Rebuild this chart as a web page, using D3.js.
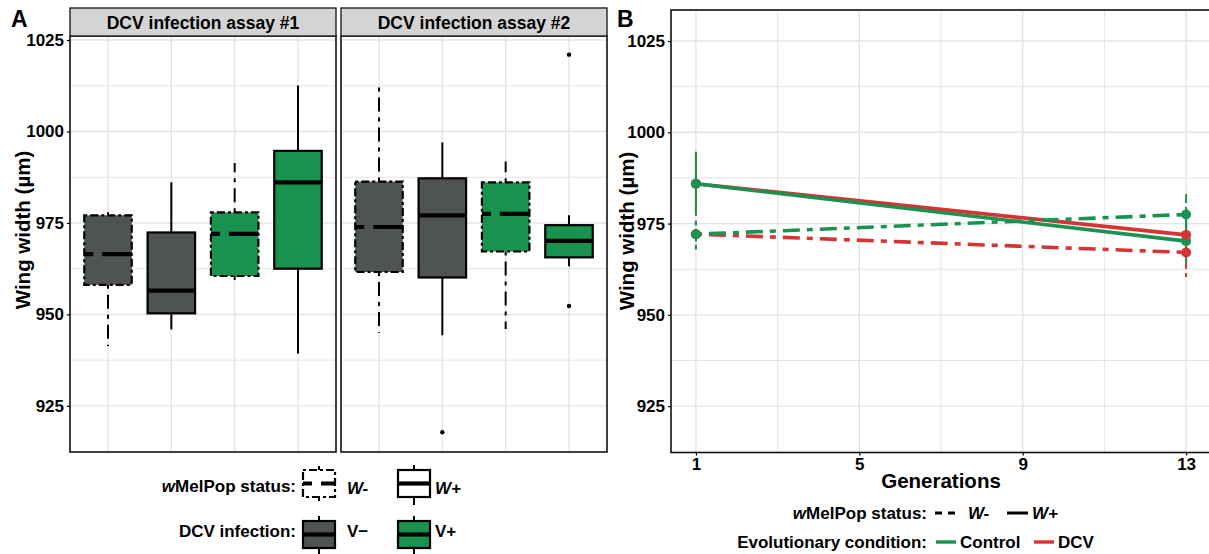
<!DOCTYPE html>
<html>
<head>
<meta charset="utf-8">
<script src="https://cdn.jsdelivr.net/npm/d3@7"></script>
<style>
  body { margin: 0; background: #fff; }
  text { font-family: "Liberation Sans", Arial, sans-serif; font-weight: bold; fill: #000; }
</style>
</head>
<body>
<svg id="fig" width="1209" height="554"></svg>
<script>
// ---- data ----
const assays = ["DCV infection assay #1", "DCV infection assay #2"];
const groups = ["W-/V-", "W+/V-", "W-/V+", "W+/V+"];
const wolbachia = ["W-", "W+", "W-", "W+"];
const infection = ["V-", "V-", "V+", "V+"];
// [lower whisker, q1, median, q3, upper whisker]
const assay1Stats = [
  [941.4, 958.1, 966.5, 977.1, 977.9],
  [945.9, 950.3, 956.5, 972.4, 986.1],
  [958.1, 960.5, 972.0, 977.9, 991.4],
  [939.3, 962.5, 986.1, 994.7, 1012.6]
];
const assay2Stats = [
  [945.0, 961.6, 973.9, 986.3, 1012.5],
  [944.3, 960.1, 977.1, 987.2, 997.0],
  [946.0, 967.2, 977.5, 986.1, 991.8],
  [963.2, 965.6, 970.1, 974.4, 977.1]
];
const assay1Outliers = [[], [], [], []];
const assay2Outliers = [[], [917.8], [], [952.3, 1021.0]];
const yTicks = [925, 950, 975, 1000, 1025];
const yMinor = [937.5, 962.5, 987.5, 1012.5];

const generations = [1, 13];
const genTicks = [1, 5, 9, 13];
const genMinor = [3, 7, 11];
const controlWplus = [985.9, 970.2], controlWplusErr = [8.8, 6.0];
const controlWminus = [972.1, 977.5], controlWminusErr = [4.2, 5.6];
const dcvWplus = [985.9, 971.9], dcvWplusErr = [8.0, 4.0];
const dcvWminus = [972.1, 967.1], dcvWminusErr = [4.0, 6.7];

// ---- styles ----
const GREY = "#4f5353", GREEN = "#19914f";
const LGREEN = "#1a9350", LRED = "#d63333";
const GRID = "#e4e4e4";
const dotdash = "4,6,14,6";

const svg = d3.select("#fig");

// ================= panel A =================
const yA = d3.scaleLinear().domain([912.4, 1026.1]).range([452, 36]);
const panelsA = [{x0: 70, x1: 336}, {x0: 341, x1: 607}];
const statsA = [assay1Stats, assay2Stats];
const outA = [assay1Outliers, assay2Outliers];

function drawBox(g, cx, w, st, fill, dashed, y) {
  const dash = dashed ? "3,3,8,3" : null;
  // whiskers
  g.append("line").attr("x1", cx).attr("x2", cx).attr("y1", y(st[3])).attr("y2", y(st[4]))
    .attr("stroke", "#000").attr("stroke-width", 2).attr("stroke-dasharray", dashed ? dotdash : null);
  g.append("line").attr("x1", cx).attr("x2", cx).attr("y1", y(st[1])).attr("y2", y(st[0]))
    .attr("stroke", "#000").attr("stroke-width", 2).attr("stroke-dasharray", dashed ? dotdash : null);
  g.append("rect").attr("x", cx - w / 2).attr("width", w)
    .attr("y", y(st[3])).attr("height", y(st[1]) - y(st[3]))
    .attr("fill", fill).attr("stroke", "#000").attr("stroke-width", 2.2)
    .attr("stroke-dasharray", dash);
  g.append("line").attr("x1", cx - w / 2).attr("x2", cx + w / 2)
    .attr("y1", y(st[2])).attr("y2", y(st[2]))
    .attr("stroke", "#000").attr("stroke-width", 4.2)
    .attr("stroke-dasharray", dashed ? "9,9,32,9" : null);
}

panelsA.forEach((p, i) => {
  const g = svg.append("g");
  const x = d3.scalePoint().domain(groups).range([p.x0, p.x1]).padding(0.6);
  const bw = x.step() * 0.75;
  // grid
  g.selectAll("line.minor").data(yMinor).join("line")
    .attr("x1", p.x0).attr("x2", p.x1).attr("y1", d => yA(d)).attr("y2", d => yA(d))
    .attr("stroke", GRID).attr("stroke-width", 1);
  g.selectAll("line.major").data(yTicks).join("line")
    .attr("x1", p.x0).attr("x2", p.x1).attr("y1", d => yA(d)).attr("y2", d => yA(d))
    .attr("stroke", GRID).attr("stroke-width", 1.4);
  g.selectAll("line.vg").data(groups).join("line")
    .attr("x1", d => x(d)).attr("x2", d => x(d)).attr("y1", 36).attr("y2", 452)
    .attr("stroke", GRID).attr("stroke-width", 1.4);
  // boxes
  groups.forEach((grp, j) => {
    const fill = infection[j] === "V+" ? GREEN : GREY;
    drawBox(g, x(grp), bw, statsA[i][j], fill, wolbachia[j] === "W-", yA);
    outA[i][j].forEach(v => g.append("circle").attr("cx", x(grp)).attr("cy", yA(v)).attr("r", 2.2).attr("fill", "#000"));
  });
  // border + strip
  g.append("rect").attr("x", p.x0).attr("y", 36).attr("width", p.x1 - p.x0).attr("height", 416)
    .attr("fill", "none").attr("stroke", "#111").attr("stroke-width", 1.6);
  g.append("rect").attr("x", p.x0).attr("y", 8).attr("width", p.x1 - p.x0).attr("height", 28)
    .attr("fill", "#d4d4d4").attr("stroke", "#222").attr("stroke-width", 1.4);
  g.append("text").attr("x", (p.x0 + p.x1) / 2).attr("y", 28.5).attr("text-anchor", "middle")
    .attr("font-size", "17.5px").text(assays[i]);
});

// y axis A
const axA = svg.append("g").attr("transform", "translate(70,0)")
  .call(d3.axisLeft(yA).tickValues(yTicks).tickFormat(d3.format("d")).tickSize(3).tickPadding(3));
axA.select(".domain").remove();
axA.selectAll("line").attr("stroke", "#000").attr("stroke-width", 1.2);
axA.selectAll("text").attr("font-size", "17px").attr("font-family", null).attr("fill", "#000");

svg.append("text").attr("transform", "translate(30,230) rotate(-90)").attr("text-anchor", "middle")
  .attr("font-size", "20.5px").text("Wing width (µm)");
svg.append("text").attr("x", 11).attr("y", 27).attr("font-size", "23px").text("A");

// legend A
function key(cx, top, fill, dashed) {
  const g = svg.append("g");
  const w = 32, h = 27;
  const sY = d => d; // pixel values already
  drawBox(g, cx, w, [top + h + 8, top + h, top + h / 2, top, top - 5], fill, dashed, sY);
}
svg.append("text").attr("x", 296).attr("y", 492).attr("text-anchor", "end").attr("font-size", "17px")
  .call(t => { t.append("tspan").attr("font-style", "italic").text("w"); t.append("tspan").text("MelPop status:"); });
key(319, 470, "#fff", true);
key(414, 470, "#fff", false);
svg.append("text").attr("x", 347).attr("y", 494).attr("font-style", "italic").attr("font-size", "17px").text(wolbachia[0]);
svg.append("text").attr("x", 435).attr("y", 494).attr("font-style", "italic").attr("font-size", "17px").text(wolbachia[1]);
svg.append("text").attr("x", 296).attr("y", 537).attr("text-anchor", "end").attr("font-size", "17px").text("DCV infection:");
key(319, 521, GREY, false);
key(414, 521, GREEN, false);
svg.append("text").attr("x", 347).attr("y", 537).attr("font-size", "17px").text("V\u2212");
svg.append("text").attr("x", 435).attr("y", 537).attr("font-size", "17px").text("V+");

// ================= panel B =================
const xB = d3.scaleLinear().domain([0.39, 13.61]).range([671, 1211]);
const yB = d3.scaleLinear().domain([912.3, 1033.5]).range([452.5, 10]);
const gB = svg.append("g");
gB.selectAll("line.hm").data(yMinor).join("line")
  .attr("x1", 671).attr("x2", 1211).attr("y1", d => yB(d)).attr("y2", d => yB(d))
  .attr("stroke", GRID).attr("stroke-width", 1);
gB.selectAll("line.hM").data(yTicks).join("line")
  .attr("x1", 671).attr("x2", 1211).attr("y1", d => yB(d)).attr("y2", d => yB(d))
  .attr("stroke", GRID).attr("stroke-width", 1.4);
gB.selectAll("line.vm").data(genMinor).join("line")
  .attr("x1", d => xB(d)).attr("x2", d => xB(d)).attr("y1", 10).attr("y2", 452.5)
  .attr("stroke", GRID).attr("stroke-width", 1);
gB.selectAll("line.vM").data(genTicks).join("line")
  .attr("x1", d => xB(d)).attr("x2", d => xB(d)).attr("y1", 10).attr("y2", 452.5)
  .attr("stroke", GRID).attr("stroke-width", 1.4);

const series = [
  {vals: dcvWminus, err: dcvWminusErr, color: LRED, dashed: true},
  {vals: dcvWplus, err: dcvWplusErr, color: LRED, dashed: false},
  {vals: controlWminus, err: controlWminusErr, color: LGREEN, dashed: true},
  {vals: controlWplus, err: controlWplusErr, color: LGREEN, dashed: false}
];
const line = d3.line().x((d, i) => xB(generations[i])).y(d => yB(d));
series.forEach(s => {
  gB.append("path").attr("d", line(s.vals)).attr("fill", "none").attr("stroke", s.color)
    .attr("stroke-width", 3.6).attr("stroke-dasharray", s.dashed ? "6,7,17,7" : null);
  generations.forEach((gen, i) => {
    gB.append("line").attr("x1", xB(gen)).attr("x2", xB(gen))
      .attr("y1", yB(s.vals[i] - s.err[i])).attr("y2", yB(s.vals[i] + s.err[i]))
      .attr("stroke", s.color).attr("stroke-width", 2)
      .attr("stroke-dasharray", s.dashed ? "4,4,12,4" : null);
  });
});
// points: generation 1 red then green, generation 13 green then red
const pointOrder = [[0, 0], [0, 1], [0, 2], [0, 3], [1, 2], [1, 3], [1, 0], [1, 1]];
pointOrder.forEach(([gi, si]) => {
  const s = series[si];
  gB.append("circle").attr("cx", xB(generations[gi])).attr("cy", yB(s.vals[gi])).attr("r", 5).attr("fill", s.color);
});
gB.append("rect").attr("x", 671).attr("y", 10).attr("width", 540).attr("height", 442.5)
  .attr("fill", "none").attr("stroke", "#111").attr("stroke-width", 1.6);

const axBy = svg.append("g").attr("transform", "translate(671,0)")
  .call(d3.axisLeft(yB).tickValues(yTicks).tickFormat(d3.format("d")).tickSize(3).tickPadding(3));
axBy.select(".domain").remove();
axBy.selectAll("line").attr("stroke", "#000").attr("stroke-width", 1.2);
axBy.selectAll("text").attr("font-size", "17px").attr("font-family", null).attr("fill", "#000");

const axBx = svg.append("g").attr("transform", "translate(0,452.5)")
  .call(d3.axisBottom(xB).tickValues(genTicks).tickFormat(d3.format("d")).tickSize(3).tickPadding(2));
axBx.select(".domain").remove();
axBx.selectAll("line").attr("stroke", "#000").attr("stroke-width", 1.2);
axBx.selectAll("text").attr("font-size", "17px").attr("font-family", null).attr("fill", "#000");

svg.append("text").attr("x", 941).attr("y", 488).attr("text-anchor", "middle").attr("font-size", "20.5px").text("Generations");
svg.append("text").attr("transform", "translate(634,231) rotate(-90)").attr("text-anchor", "middle")
  .attr("font-size", "20.5px").text("Wing width (µm)");
svg.append("text").attr("x", 617).attr("y", 27).attr("font-size", "23px").text("B");

// legend B
svg.append("text").attr("x", 927).attr("y", 519).attr("text-anchor", "end").attr("font-size", "17px")
  .call(t => { t.append("tspan").attr("font-style", "italic").text("w"); t.append("tspan").text("MelPop status:"); });
svg.append("line").attr("x1", 935).attr("x2", 955).attr("y1", 513).attr("y2", 513)
  .attr("stroke", "#000").attr("stroke-width", 3).attr("stroke-dasharray", "7,6");
svg.append("text").attr("x", 968).attr("y", 519).attr("font-style", "italic").attr("font-size", "17px").text(wolbachia[0]);
svg.append("line").attr("x1", 1007).attr("x2", 1028).attr("y1", 513).attr("y2", 513)
  .attr("stroke", "#000").attr("stroke-width", 3);
svg.append("text").attr("x", 1032).attr("y", 519).attr("font-style", "italic").attr("font-size", "17px").text(wolbachia[1]);

svg.append("text").attr("x", 927).attr("y", 548).attr("text-anchor", "end").attr("font-size", "17px").text("Evolutionary condition:");
svg.append("line").attr("x1", 936).attr("x2", 956).attr("y1", 542).attr("y2", 542)
  .attr("stroke", LGREEN).attr("stroke-width", 3.4);
svg.append("text").attr("x", 960).attr("y", 548).attr("font-size", "17px").text("Control");
svg.append("line").attr("x1", 1034).attr("x2", 1054).attr("y1", 542).attr("y2", 542)
  .attr("stroke", LRED).attr("stroke-width", 3.4);
svg.append("text").attr("x", 1058).attr("y", 548).attr("font-size", "17px").text("DCV");
</script>
</body>
</html>
